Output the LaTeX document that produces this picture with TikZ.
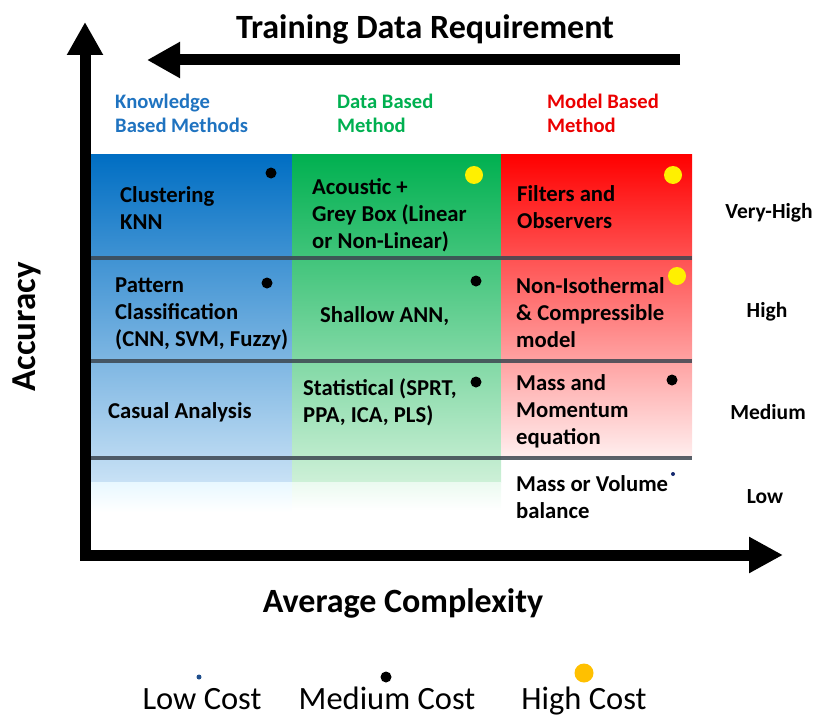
\documentclass[tikz,border=0pt]{standalone}
\usepackage{fontspec}
\setmainfont{Carlito}
\usetikzlibrary{arrows.meta}
\definecolor{blueTop}{RGB}{0,110,195}
\definecolor{blueBot}{RGB}{200,225,245}
\definecolor{blueFade}{RGB}{232,248,255}
\definecolor{greenTop}{RGB}{0,176,80}
\definecolor{greenBot}{RGB}{205,240,215}
\definecolor{greenFade}{RGB}{235,250,240}
\definecolor{redTop}{RGB}{255,0,0}
\definecolor{redBot}{RGB}{255,238,238}
\definecolor{hdBlue}{RGB}{31,115,192}
\definecolor{hdGreen}{RGB}{0,176,80}
\definecolor{hdRed}{RGB}{235,0,0}
\definecolor{sepLine}{RGB}{60,70,80}
\definecolor{dotYellow}{RGB}{255,240,0}
\definecolor{dotGold}{RGB}{255,192,0}
\definecolor{dotNavy}{RGB}{20,40,110}
\definecolor{dotLegBlue}{RGB}{31,78,140}
\begin{document}
\begin{tikzpicture}[x=1pt,y=-1pt,
  cell/.style={anchor=base west, align=left, inner sep=0pt, font=\fontsize{22.7}{27}\selectfont\bfseries},
  header/.style={anchor=base west, align=left, inner sep=0pt, font=\fontsize{20.6}{24}\selectfont\bfseries},
  level/.style={anchor=base, inner sep=0pt, font=\fontsize{21.5}{24}\selectfont\bfseries},
  axislabel/.style={anchor=base, inner sep=0pt, font=\fontsize{34}{40}\selectfont\bfseries},
  legendtext/.style={anchor=base, inner sep=0pt, font=\fontsize{32.5}{38}\selectfont},
  axisline/.style={line width=11pt, line join=miter},
  bigtip/.style={-{Triangle[length=33pt,width=34pt]}},
  sep/.style={draw=sepLine, line width=4pt, opacity=0.85},
  blackdot/.style={fill=black},
  yellowdot/.style={fill=dotYellow},
]
\useasboundingbox (0,0) rectangle (814,717);

% column backgrounds
\shade[top color=blueTop, bottom color=blueBot] (90,154) rectangle (292,482);
\shade[top color=blueFade, bottom color=white] (90,482) rectangle (292,512);
\shade[top color=greenTop, bottom color=greenBot] (292,154) rectangle (501,482);
\shade[top color=greenFade, bottom color=white] (292,482) rectangle (501,510);
\shade[top color=redTop, bottom color=redBot] (501,154) rectangle (692,457);

% separators
\draw[sep] (90,258) -- (692,258);
\draw[sep] (90,361) -- (692,361);
\draw[sep] (90,458) -- (692,458);

% axes
\coordinate (ytip) at (85,22);
\coordinate (origin) at (85,555);
\coordinate (xtip) at (783,555);
\draw[axisline, {Triangle[length=33pt,width=34pt]}-{Triangle[length=34pt,width=34pt]}] (ytip) -- (origin) -- (xtip);

% training arrow
\coordinate (tstart) at (680,60);
\coordinate (tend) at (147,60);
\draw[axisline, bigtip] (tstart) -- (tend);

% titles
\node[axislabel] (title) at (425,39) {Training Data Requirement};
\node[axislabel] (xlabel) at (403,612) {Average Complexity};
\node[axislabel, rotate=90, font=\fontsize{35}{40}\selectfont\bfseries] (ylabel) at (35,327) {Accuracy};

% headers (anchor = baseline of last line)
\node[header, text=hdBlue] (hknow) at (115,132) {Knowledge\\Based Methods};
\node[header, text=hdGreen] (hdata) at (337,132) {Data Based\\Method};
\node[header, text=hdRed] (hmodel) at (547,132) {Model Based\\Method};

% cells (anchor = baseline of last line)
\node[cell] (c11) at (120,229) {Clustering\\KNN};
\node[cell] (c12) at (312,248) {Acoustic +\\Grey Box (Linear\\or Non-Linear)};
\node[cell] (c13) at (517,228) {Filters and\\Observers};
\node[cell] (c21) at (115,346) {Pattern\\Classification\\(CNN, SVM, Fuzzy)};
\node[cell] (c22) at (320,322) {Shallow ANN,};
\node[cell] (c23) at (516,347) {Non-Isothermal\\\& Compressible\\model};
\node[cell] (c31) at (108,418) {Casual Analysis};
\node[cell] (c32) at (303,422) {Statistical (SPRT,\\PPA, ICA, PLS)};
\node[cell] (c33) at (516,444) {Mass and\\Momentum\\equation};
\node[cell] (c43) at (516,518) {Mass or Volume\\balance};

% levels
\node[level] (lvh) at (769,218) {Very-High};
\node[level] (lh) at (767,317) {High};
\node[level] (lm) at (768,419) {Medium};
\node[level] (ll) at (765,503) {Low};

% cost dots
\fill[blackdot] (271,173) circle (5.5);
\fill[yellowdot] (474,175) circle (9);
\fill[yellowdot] (673,175) circle (9);
\fill[blackdot] (267,283) circle (5.5);
\fill[blackdot] (476,281) circle (5.5);
\fill[yellowdot] (677,276) circle (9);
\fill[blackdot] (476,382) circle (5.5);
\fill[blackdot] (672,380) circle (5.5);
\fill[dotNavy] (673,474) circle (2);

% legend
\fill[dotLegBlue] (199,677) circle (2.5);
\fill[black] (386,677) circle (5.5);
\fill[dotGold] (584,673) circle (9.5);
\node[legendtext] (lowc) at (202,709) {Low Cost};
\node[legendtext] (medc) at (387,709) {Medium Cost};
\node[legendtext] (highc) at (584,709) {High Cost};
\end{tikzpicture}
\end{document}
